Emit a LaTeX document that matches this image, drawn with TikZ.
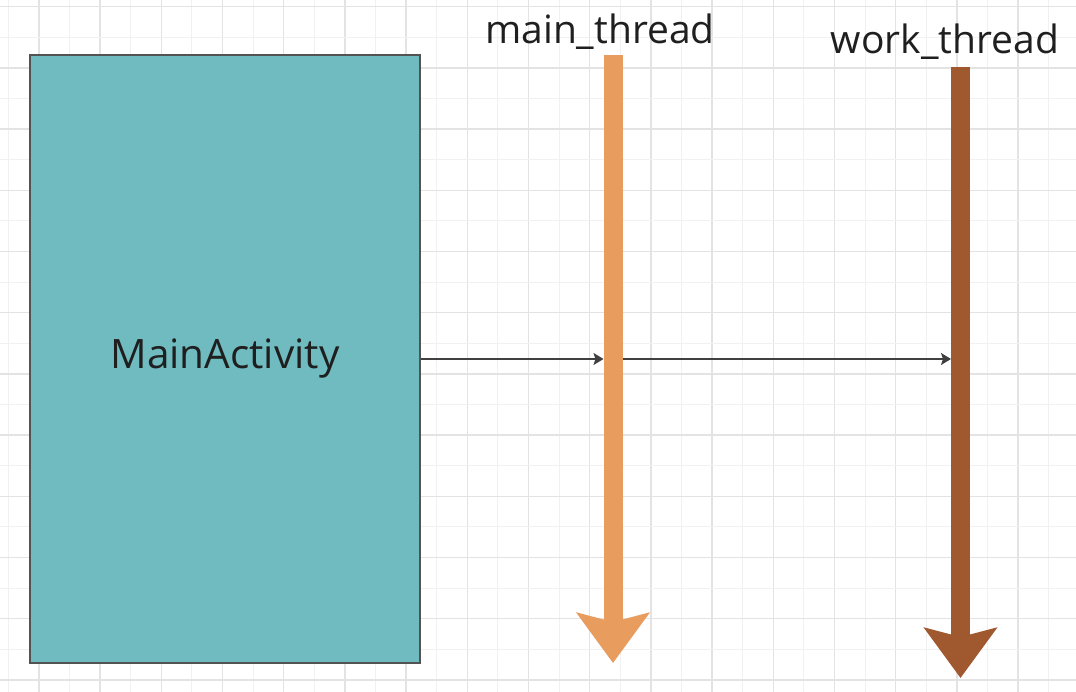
\documentclass[tikz,border=0pt]{standalone}
\usepackage{fontspec}
\setmainfont{Open Sans}
\usetikzlibrary{positioning,arrows.meta,calc}
\definecolor{activityc}{HTML}{6FBBC0}
\definecolor{mainc}{HTML}{E89C5E}
\definecolor{workc}{HTML}{A0582F}
\definecolor{linkc}{HTML}{404040}
\definecolor{gridminc}{HTML}{F1F1F1}
\definecolor{gridmajc}{HTML}{E3E3E3}
\tikzset{
  activity/.style = {draw=linkc!90, line width=1.3pt, fill=activityc, minimum width=390pt,
                     minimum height=608pt, inner sep=0pt, font=\fontsize{40.5}{48}\selectfont},
  thread/.style   = {line width=19pt, -{Stealth[length=50pt,width=72pt,inset=9pt]}},
  link/.style     = {draw=linkc, line width=1.4pt, -{Stealth[length=10pt,width=12pt,inset=2pt]}},
  lbl/.style      = {inner sep=0pt, font=\fontsize{39}{46}\selectfont, text=black!88},
  gridmin/.style  = {draw=gridminc, line width=1pt},
  gridmaj/.style  = {draw=gridmajc, line width=1.3pt},
}
\begin{document}
\begin{tikzpicture}[x=1pt, y=-1pt]
\useasboundingbox (0,0) rectangle (1076,692);
\fill[white] (0,0) rectangle (1076,692);

% --- background grid ----------------------------------------------------
\foreach \i [evaluate=\i as \gx using 8.3+30.6*\i] in {0,...,34} {
  \ifodd\i \draw[gridmaj] (\gx,0) -- (\gx,692);
  \else \draw[gridmin] (\gx,0) -- (\gx,692); \fi
}
\foreach \i [evaluate=\i as \gy using 6.7+30.6*\i] in {0,...,22} {
  \ifodd\i \draw[gridmin] (0,\gy) -- (1076,\gy);
  \else \draw[gridmaj] (0,\gy) -- (1076,\gy); \fi
}

% --- activity and threads -----------------------------------------------
\node[activity, text=black!88] (act) at (225,359) {MainActivity};

\coordinate (mtop) at (613,55);
\coordinate (mend) at (613,663);
\coordinate (wtop) at (960.5,67);
\coordinate (wend) at (960.5,678);
\node[lbl, anchor=base] (mlbl) at (600,44) {main\_thread};
\node[lbl, anchor=base] (wlbl) at (945,54) {work\_thread};

\draw[thread, mainc] (mtop) -- (mend);
\draw[thread, workc] (wtop) -- (wend);

% --- calls --------------------------------------------------------------
\coordinate (min) at ($(act.east -| mtop)+(-9.5,0)$);
\coordinate (mout) at ($(act.east -| mtop)+(9.5,0)$);
\coordinate (win) at ($(act.east -| wtop)+(-9.5,0)$);
\draw[link] (act.east) -- (min);
\draw[link] (mout) -- (win);

\end{tikzpicture}
\end{document}
